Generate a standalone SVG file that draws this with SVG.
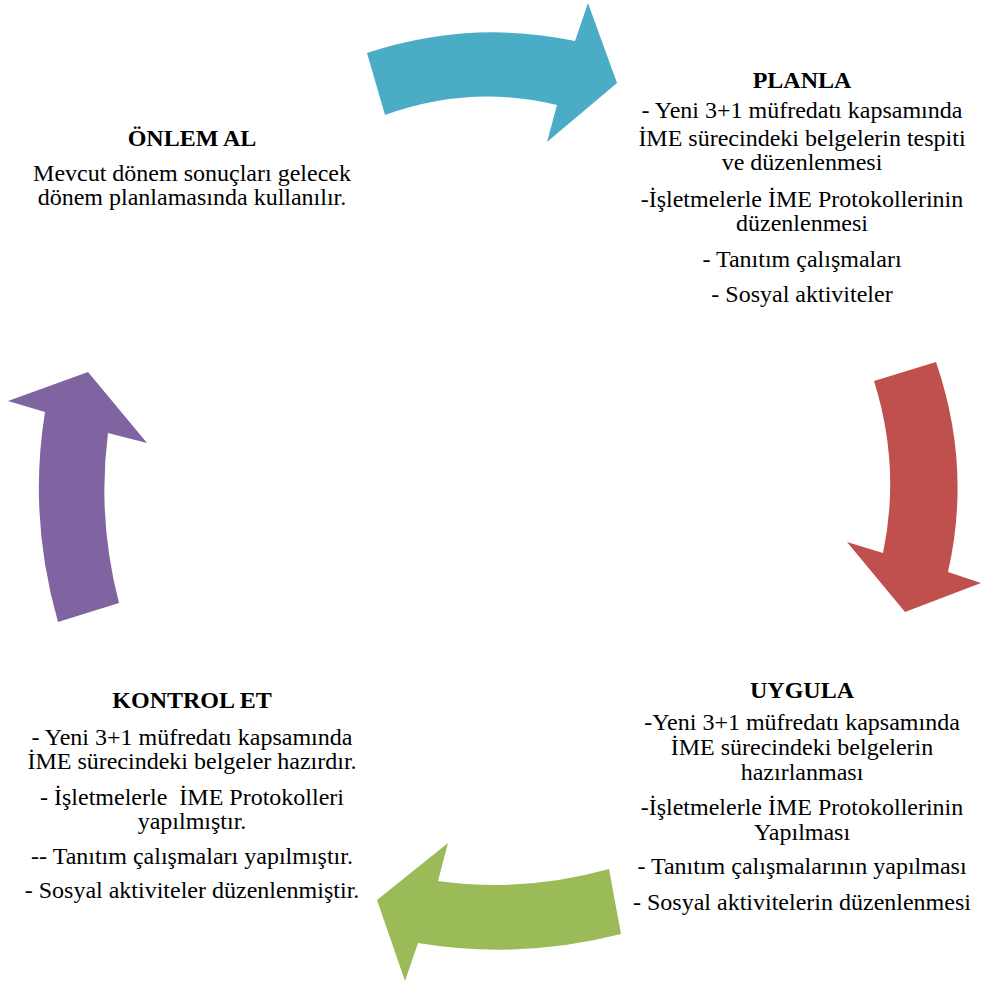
<svg xmlns="http://www.w3.org/2000/svg" width="981" height="983" viewBox="0 0 981 983">
<style>
text{font-family:"Liberation Serif","Times New Roman",serif;font-size:24px;fill:#000;text-anchor:middle}
.t{font-weight:bold}
</style>
<rect width="981" height="983" fill="#fff"/>
<g id="connectors">
<path id="arrow-plan" fill="#4BACC6" d="M367,53 Q471,19 575,41 L588,3 L617,83 L547,142 L557,105 Q471,84 385,115 Z"/>
<path id="arrow-do" fill="#C0504D" d="M874,381 L936,362 Q972,467 948,572 L981,583 L905,612 L847,542 L883,553 Q901,467 874,381 Z"/>
<path id="arrow-check" fill="#9BBB59" d="M609,869 Q523,893 438,881 L448,843 L377,900 L405,981 L418,943 Q520,960 621,934 Z"/>
<path id="arrow-act" fill="#8064A2" d="M58,622 L119,603 Q97,518 108,433 L147,443 L88,372 L8,401 L45,412 Q28,517 58,622 Z"/>
</g>
<g id="planla">
<text class="t" x="802" y="88">PLANLA</text>
<text x="802" y="118">- Yeni 3+1 müfredatı kapsamında</text>
<text x="802" y="146">İME sürecindeki belgelerin tespiti</text>
<text x="802" y="170">ve düzenlenmesi</text>
<text x="802" y="207">-İşletmelerle İME Protokollerinin</text>
<text x="802" y="231">düzenlenmesi</text>
<text x="802" y="267">- Tanıtım çalışmaları</text>
<text x="802" y="302">- Sosyal aktiviteler</text>
</g>
<g id="uygula">
<text class="t" x="802" y="698">UYGULA</text>
<text x="802" y="730">-Yeni 3+1 müfredatı kapsamında</text>
<text x="802" y="755">İME sürecindeki belgelerin</text>
<text x="802" y="780">hazırlanması</text>
<text x="802" y="815">-İşletmelerle İME Protokollerinin</text>
<text x="802" y="840">Yapılması</text>
<text x="802" y="874">- Tanıtım çalışmalarının yapılması</text>
<text x="802" y="910">- Sosyal aktivitelerin düzenlenmesi</text>
</g>
<g id="kontrol">
<text class="t" x="192" y="708">KONTROL ET</text>
<text x="192" y="745">- Yeni 3+1 müfredatı kapsamında</text>
<text x="192" y="769">İME sürecindeki belgeler hazırdır.</text>
<text x="192" y="805" xml:space="preserve">- İşletmelerle  İME Protokolleri</text>
<text x="192" y="829">yapılmıştır.</text>
<text x="192" y="864">-- Tanıtım çalışmaları yapılmıştır.</text>
<text x="192" y="898">- Sosyal aktiviteler düzenlenmiştir.</text>
</g>
<g id="onlem">
<text class="t" x="192" y="146">ÖNLEM AL</text>
<text x="192" y="181">Mevcut dönem sonuçları gelecek</text>
<text x="192" y="205">dönem planlamasında kullanılır.</text>
</g>
</svg>
